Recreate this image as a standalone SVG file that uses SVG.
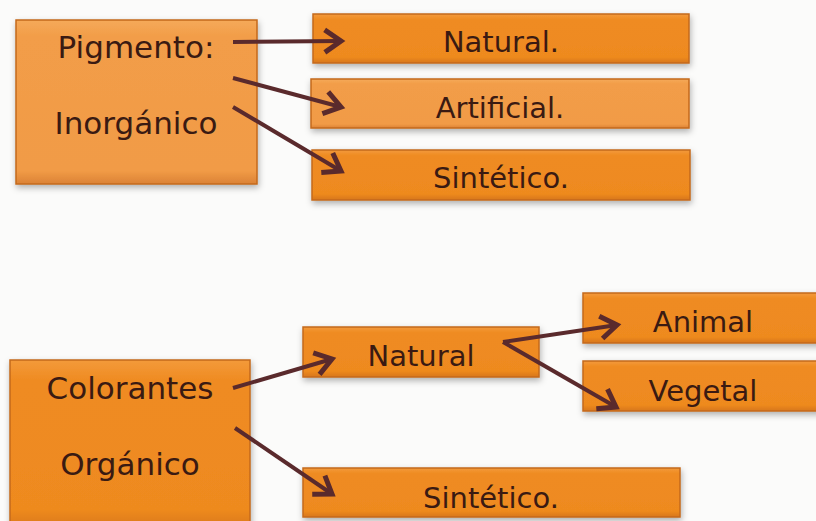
<svg xmlns="http://www.w3.org/2000/svg" width="816" height="521" viewBox="0 0 816 521">
<style>
.t{font-family:"DejaVu Sans","Liberation Sans",sans-serif;fill:#3a1a12;text-anchor:middle}
.big{font-size:31px}
.mid{font-size:29px}
.bx{stroke:#c4691c;stroke-width:1.5;filter:url(#sh)}
.dk{fill:url(#gd)}
.lt{fill:url(#gl)}
.ar{stroke:#5a2a2c;stroke-width:4;fill:none;marker-end:url(#ah)}
</style>
<defs>
<linearGradient id="gd" x1="0" y1="0" x2="0" y2="1">
<stop offset="0" stop-color="#f39a3a"/>
<stop offset="0.12" stop-color="#ef8b22"/>
<stop offset="0.88" stop-color="#ee8a1f"/>
<stop offset="1" stop-color="#d7761c"/>
</linearGradient>
<linearGradient id="gl" x1="0" y1="0" x2="0" y2="1">
<stop offset="0" stop-color="#f5aa5a"/>
<stop offset="0.1" stop-color="#f29d48"/>
<stop offset="0.92" stop-color="#f19b46"/>
<stop offset="1" stop-color="#db8236"/>
</linearGradient>
<filter id="sh" x="-10%" y="-20%" width="120%" height="150%">
<feDropShadow dx="1" dy="3" stdDeviation="3" flood-color="#000" flood-opacity="0.3"/>
</filter>
<marker id="ah" markerUnits="userSpaceOnUse" markerWidth="30" markerHeight="30" viewBox="-16 -12 20 24" refX="0" refY="0" orient="auto">
<path d="M-13,-9 L0,0 L-13,9" fill="none" stroke="#5a2a2c" stroke-width="4" stroke-linejoin="miter"/>
</marker>
</defs>
<rect width="816" height="521" fill="#fbfbfa"/>
<g id="pigmento">
<rect class="bx lt" x="16" y="20" width="241" height="164"/>
<text class="t big" x="136" y="58">Pigmento:</text>
<text class="t big" x="136" y="134">Inorgánico</text>
</g>
<g id="natural1">
<rect class="bx dk" x="313" y="14" width="376" height="49"/>
<text class="t mid" x="501" y="52">Natural.</text>
</g>
<g id="artificial">
<rect class="bx lt" x="311" y="79" width="378" height="49"/>
<text class="t mid" x="500" y="118">Artificial.</text>
</g>
<g id="sintetico1">
<rect class="bx dk" x="312" y="150" width="378" height="50"/>
<text class="t mid" x="501" y="188">Sintético.</text>
</g>
<g id="colorantes">
<rect class="bx dk" x="10" y="360" width="240" height="170"/>
<text class="t big" x="130" y="399">Colorantes</text>
<text class="t big" x="130" y="475">Orgánico</text>
</g>
<g id="natural2">
<rect class="bx dk" x="303" y="327" width="236" height="50"/>
<text class="t mid" x="421" y="366">Natural</text>
</g>
<g id="animal">
<rect class="bx dk" x="583" y="293" width="245" height="50"/>
<text class="t mid" x="703" y="332">Animal</text>
</g>
<g id="vegetal">
<rect class="bx dk" x="583" y="361" width="245" height="50"/>
<text class="t mid" x="703" y="401">Vegetal</text>
</g>
<g id="sintetico2">
<rect class="bx dk" x="303" y="468" width="377" height="49"/>
<text class="t mid" x="491" y="508">Sintético.</text>
</g>
<g id="connectors">
<line class="ar" x1="233" y1="42" x2="341" y2="41"/>
<line class="ar" x1="233" y1="78" x2="341" y2="107"/>
<line class="ar" x1="233" y1="107" x2="341" y2="171"/>
<line class="ar" x1="233" y1="388" x2="332" y2="359"/>
<line class="ar" x1="235" y1="428" x2="332" y2="494"/>
<line class="ar" x1="503" y1="342" x2="617" y2="325"/>
<line class="ar" x1="503" y1="342" x2="616" y2="407"/>
</g>
</svg>
